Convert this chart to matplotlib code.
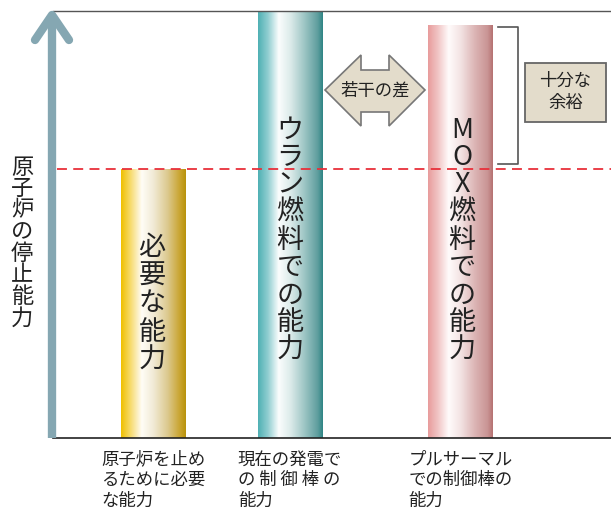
import numpy as np
import matplotlib.pyplot as plt
from matplotlib.colors import LinearSegmentedColormap
from matplotlib.patches import Polygon, Rectangle
from matplotlib.lines import Line2D

plt.rcParams['font.family'] = ['Noto Sans CJK JP', 'DejaVu Sans']

# Chart data
bar_texts = ["必要な能力", "ウラン燃料での能力", "MOX燃料での能力"]
bar_values = [0.63, 1.0, 0.967]
required_level = 0.63
tick_labels = ["原子炉を止め\nるために必要\nな能力",
               "現在の発電で\nの 制 御 棒 の\n能力",
               "プルサーマル\nでの制御棒の\n能力"]
y_label = "原子炉の停止能力"
gap_label = "若干の差"
margin_label = "十分な\n余裕"

# layout (pixel based)
W, H = 611, 509
xpos = [100.5, 237, 407.5]
bar_width = 65

bar_colors = [
    ["#f0c000", "#f7dc70", "#fffdf6", "#f1ead6", "#dcc98e", "#c8a22a", "#b8920c"],
    ["#4fb0b4", "#8fcdd0", "#fbfdfd", "#dcebea", "#9cc5c4", "#5f9e9e", "#2f8585"],
    ["#e89c9c", "#f1c4c4", "#fffbfb", "#f3e4e4", "#dcb5b5", "#c99494", "#b57272"],
]
stops = [0.0, 0.15, 0.32, 0.5, 0.72, 0.92, 1.0]


def fx(x):
    return x / W


def fy(y):
    return 1 - y / H


fig = plt.figure(figsize=(W / 100, H / 100), dpi=100)
ax = fig.add_axes([fx(53), fy(438), fx(611) - fx(53), fy(11) - fy(438)])

grad = np.linspace(0, 1, 256).reshape(1, -1)
bars = ax.bar(xpos, bar_values, width=bar_width, color='none', zorder=2)
for bar, cols in zip(bars, bar_colors):
    cmap = LinearSegmentedColormap.from_list('g', list(zip(stops, cols)))
    x0 = bar.get_x()
    im = ax.imshow(grad, extent=[x0, x0 + bar.get_width(), 0, bar.get_height()],
                   aspect='auto', cmap=cmap, zorder=2)
    im.set_clip_path(bar)

ax.set_xlim(0, 558)
ax.set_ylim(0, 1)

# required level
ax.axhline(required_level, xmin=4 / 558, color='#e8303a', ls=(0, (5.5, 3.5)),
           lw=1.3, zorder=3)

for s in ['left', 'right']:
    ax.spines[s].set_visible(False)
ax.spines['top'].set_color('#555555')
ax.spines['top'].set_linewidth(1.0)
ax.spines['bottom'].set_color('#222222')
ax.spines['bottom'].set_linewidth(1.2)
ax.set_yticks([])
ax.set_xticks(xpos, tick_labels)
ax.tick_params(axis='x', length=0, pad=9)
for lbl in ax.get_xticklabels():
    lbl.set_fontsize(12.5)
    lbl.set_color('#222222')
    lbl.set_multialignment('left')
    lbl.set_linespacing(1.2)

# vertical text in bars
def vtext(x, y_first, step, s, size):
    for i, ch in enumerate(s):
        fig.text(fx(x), fy(y_first + i * step), ch, ha='center', va='center',
                 fontsize=size, color='#222222', zorder=5)

vtext(152, 247.5, 28.25, bar_texts[0], 19.5)
vtext(290, 130, 27.5, bar_texts[1], 19.5)
vtext(462, 130, 27.5, bar_texts[2], 19.5)
vtext(22, 167, 21.6, y_label, 16)

# y axis arrow
arrow_col = '#85a7b2'
fig.add_artist(Line2D([fx(52), fx(52)], [fy(438), fy(16)], lw=6, color=arrow_col,
                      solid_capstyle='butt'))
fig.add_artist(Line2D([fx(35), fx(52), fx(69)], [fy(40), fy(15), fy(40)], lw=6,
                      color=arrow_col, solid_capstyle='round', solid_joinstyle='round'))

# double arrow with gap label
pts = [(325, 90), (361, 55), (361, 70), (389, 70), (389, 55), (425, 90),
       (389, 126), (389, 112), (361, 112), (361, 126)]
fig.add_artist(Polygon([(fx(x), fy(y)) for x, y in pts], closed=True,
                       facecolor='#e3dccb', edgecolor='#777777', lw=1.2,
                       transform=fig.transFigure))
fig.text(fx(375), fy(91), gap_label, ha='center', va='center', fontsize=12.5,
         color='#222222')

# margin bracket and box
fig.add_artist(Line2D([fx(498), fx(518), fx(518), fx(498)],
                      [fy(27), fy(27), fy(164), fy(164)], lw=1.2, color='#555555'))
fig.add_artist(Rectangle((fx(525), fy(122)), fx(606) - fx(525), fy(63) - fy(122),
                         facecolor='#e3dccb', edgecolor='#666666', lw=1.3,
                         transform=fig.transFigure))
fig.text(fx(565.5), fy(92), margin_label, ha='center', va='center', fontsize=12.5,
         color='#222222', linespacing=1.3)

fig.savefig('out.png', dpi=100)
